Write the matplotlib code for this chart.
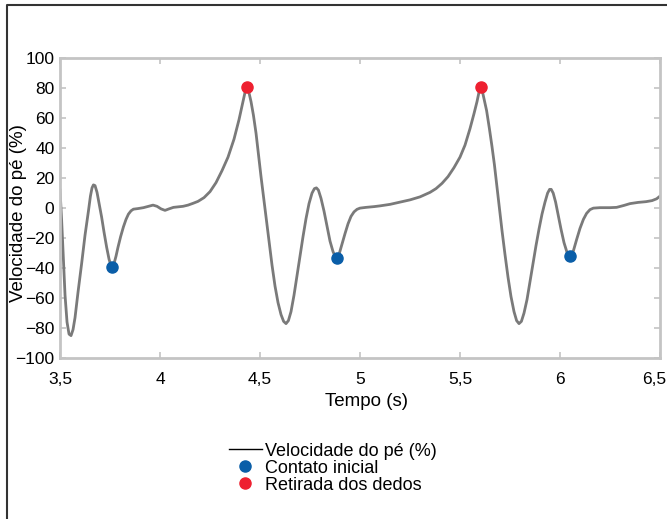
import numpy as np
import matplotlib.pyplot as plt
import matplotlib.transforms as mtransforms
from matplotlib.lines import Line2D
from matplotlib.ticker import FuncFormatter

plt.rcParams['font.family'] = ['Liberation Sans', 'DejaVu Sans']

# foot velocity curve
tempo = [3.50, 3.508, 3.516, 3.525, 3.535, 3.545, 3.555, 3.565, 3.575, 3.59,
         3.608, 3.625, 3.642, 3.652, 3.66, 3.667, 3.675, 3.685, 3.697, 3.708,
         3.72, 3.733, 3.745, 3.755, 3.762, 3.77, 3.78, 3.79, 3.803, 3.817,
         3.83, 3.842, 3.855, 3.867, 3.89, 3.917, 3.945, 3.965, 3.985, 4.005,
         4.025, 4.045, 4.067, 4.09, 4.115, 4.14, 4.165, 4.19, 4.22, 4.25,
         4.28, 4.31, 4.34, 4.37, 4.395, 4.415, 4.428, 4.435, 4.443, 4.455,
         4.467, 4.48, 4.492, 4.505, 4.517, 4.53, 4.545, 4.56, 4.575, 4.59,
         4.605, 4.618, 4.63, 4.642, 4.655, 4.67, 4.685, 4.70, 4.715, 4.73,
         4.745, 4.76, 4.772, 4.782, 4.792, 4.805, 4.82, 4.835, 4.85, 4.865,
         4.877, 4.887, 4.897, 4.91, 4.925, 4.94, 4.955, 4.97, 4.985, 5.0,
         5.03, 5.07, 5.10, 5.15, 5.20, 5.25, 5.30, 5.35, 5.38, 5.41,
         5.44, 5.47, 5.50, 5.525, 5.55, 5.57, 5.585, 5.596, 5.603, 5.61,
         5.62, 5.633, 5.647, 5.66, 5.672, 5.685, 5.697, 5.71, 5.725, 5.74,
         5.755, 5.77, 5.783, 5.795, 5.807, 5.82, 5.835, 5.85, 5.865, 5.88,
         5.895, 5.91, 5.925, 5.938, 5.948, 5.956, 5.966, 5.978, 5.99, 6.005,
         6.02, 6.035, 6.047, 6.057, 6.068, 6.083, 6.10, 6.117, 6.133, 6.15,
         6.167, 6.20, 6.25, 6.283, 6.32, 6.35, 6.39, 6.43, 6.46, 6.483, 6.50]
velocidade = [12, -8, -32, -58, -76, -84, -85, -81, -73, -56,
              -37, -18, -2, 8, 13.5, 15.5, 15, 10.5, 2, -6,
              -16, -26, -34, -38.5, -39.5, -37, -32, -26, -19, -12.5,
              -7.5, -4, -1.8, -0.7, -0.3, 0.3, 1.3, 2, 1.2, -0.5,
              -1.5, -0.5, 0.5, 0.8, 1.2, 2, 3.2, 4.5, 7, 11,
              17, 25, 34, 46, 59, 71, 79, 81, 78, 71,
              62, 50, 36, 21, 8, -6, -22, -38, -52, -63,
              -71, -75.5, -77, -75, -69, -58, -45, -32, -19, -7,
              3, 10, 13, 13.5, 12, 6.5, -2, -12, -22, -29,
              -32.5, -33, -30, -24, -17, -10.5, -5.5, -2.5, -0.8, 0,
              0.5, 1, 1.5, 2.5, 4, 5.5, 7.5, 10.5, 13, 16.5,
              21, 27, 34, 42, 53, 63, 71, 78, 81, 79,
              73, 65, 53, 41, 29, 14, 0, -15, -31, -46,
              -59, -69, -75, -77, -75.5, -70, -61, -49, -37, -25,
              -14, -4, 4, 10, 12.5, 12.5, 10, 4, -4, -14,
              -23, -29.5, -32, -31.5, -28, -21, -13.5, -7.5, -3.5, -1,
              0, 0.3, 0.3, 0.5, 1.8, 3, 3.8, 4.3, 5, 6.2, 8]

# events
contato_t = [3.762, 4.885, 6.05]
contato_v = [-39.5, -33, -32]
retirada_t = [4.435, 5.603]
retirada_v = [81, 81]

fig = plt.figure(figsize=(6.67, 5.19), dpi=100)
ax = fig.add_axes([0.09, 0.31, 0.8995, 0.578])

ax.plot(tempo, velocidade, color='#7a7a7a', lw=2, label='Velocidade do pé (%)', zorder=2)
ax.plot(contato_t, contato_v, 'o', color='#0a5ea8', ms=8, label='Contato inicial', zorder=3)
ax.plot(retirada_t, retirada_v, 'o', color='#ee2030', ms=8, label='Retirada dos dedos', zorder=3)

ax.set_xlim(3.5, 6.5)
ax.set_ylim(-100, 100)
ax.set_xticks([3.5, 4, 4.5, 5, 5.5, 6, 6.5])
ax.set_yticks(range(-100, 101, 20))
ax.xaxis.set_major_formatter(FuncFormatter(lambda v, p: ('%g' % v).replace('.', ',')))

for s in ax.spines.values():
    s.set_color('#c4c4c4')
    s.set_linewidth(2)
ax.tick_params(direction='in', length=4, width=1.2, color='#c4c4c4', labelsize=12.5,
               top=True, right=True, pad=4)
ax.tick_params(axis='x', pad=10)
ax.set_xlabel('Tempo (s)', fontsize=13.5, labelpad=3)
ax.xaxis.set_label_coords(0.51, -0.115)
ax.set_ylabel('Velocidade do pé (%)', fontsize=13.5)
ax.yaxis.set_label_coords(-0.055, 0.485)

# last x label pulled left so it stays inside the picture
fig.canvas.draw()
last = ax.get_xticklabels()[-1]
last.set_transform(last.get_transform() + mtransforms.ScaledTranslation(-6 / 100, 0, fig.dpi_scale_trans))

# legend below the plot, line drawn black
handles = [Line2D([0], [0], color='black', lw=1),
           Line2D([0], [0], marker='o', ls='', color='#0a5ea8', ms=8),
           Line2D([0], [0], marker='o', ls='', color='#ee2030', ms=8)]
labels = ['Velocidade do pé (%)', 'Contato inicial', 'Retirada dos dedos']
fig.legend(handles, labels, loc='upper left', bbox_to_anchor=(0.343, 0.147), frameon=False,
           fontsize=13, handlelength=1.85, handletextpad=0.15, labelspacing=0.0,
           borderpad=0, borderaxespad=0)

# outer frame (left and top)
fig.add_artist(Line2D([0.0105, 0.0105, 1.0], [0.0, 0.99, 0.99], color='#333333', lw=1.5,
                      transform=fig.transFigure))

fig.savefig('out.png', dpi=100)
